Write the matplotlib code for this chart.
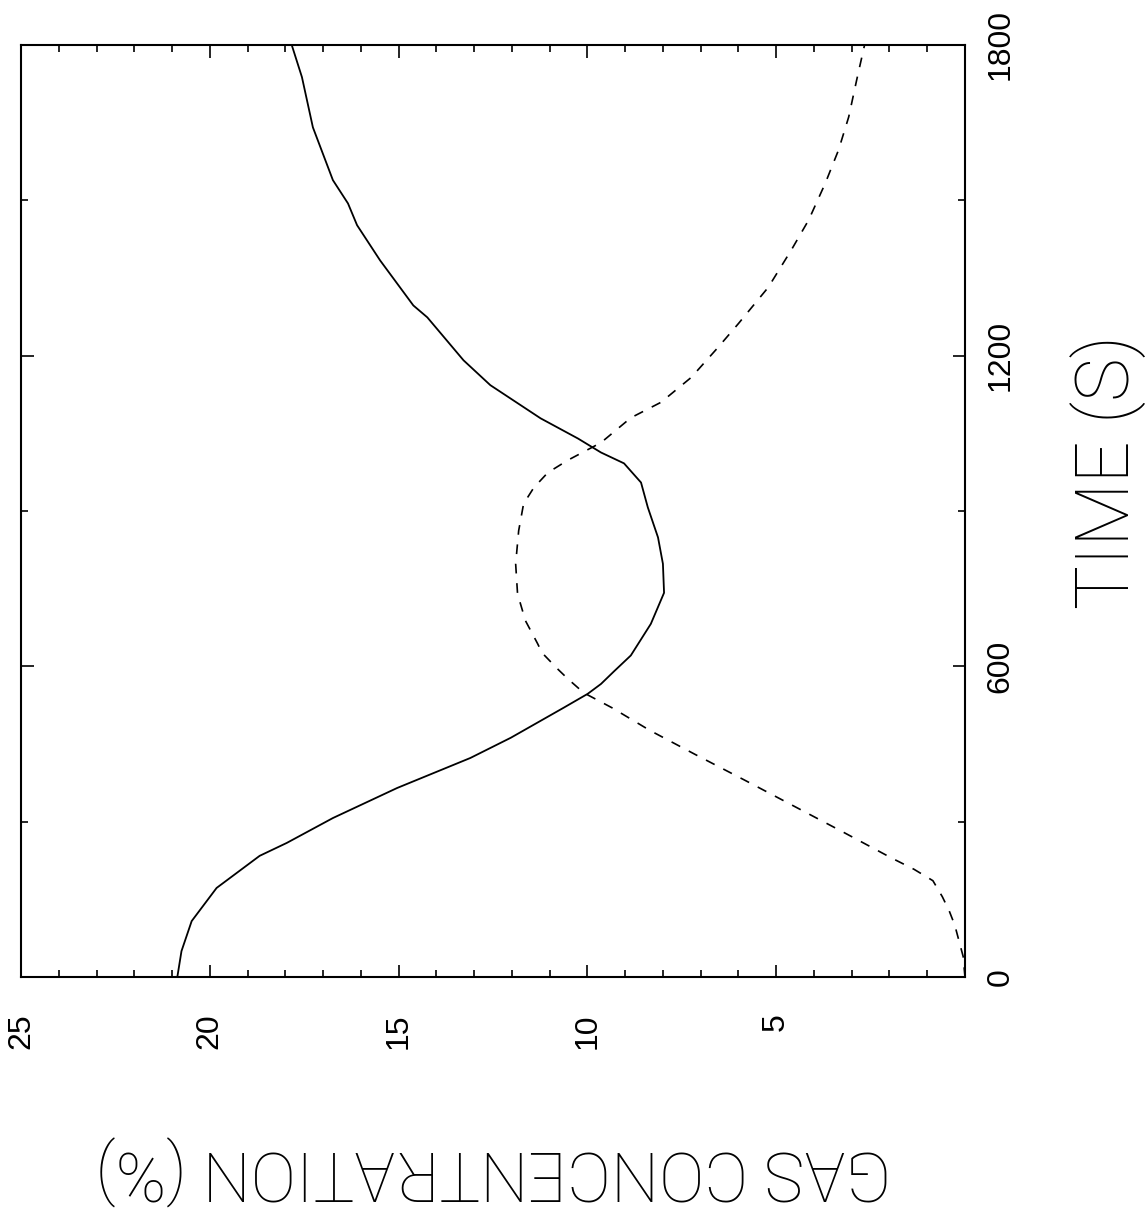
import numpy as np
import matplotlib
matplotlib.use("Agg")
import matplotlib.pyplot as plt
from matplotlib.ticker import MultipleLocator

plt.rcParams['font.family'] = ['Liberation Sans', 'DejaVu Sans']
plt.rcParams['lines.scale_dashes'] = False

# solid curve (time s, concentration %)
solid_time = [0, 50, 108, 172, 234, 259, 307, 365, 423, 462, 520, 547, 566, 590,
              621, 682, 742, 798, 849, 907, 955, 992, 1013, 1040, 1079, 1143,
              1191, 1274, 1297, 1384, 1452, 1494, 1539, 1641, 1738, 1800]
solid_conc = [20.86, 20.75, 20.48, 19.82, 18.68, 17.96, 16.74, 15.04, 13.1, 12.03,
              10.63, 9.99, 9.64, 9.3, 8.85, 8.32, 7.97, 8.0, 8.13, 8.40, 8.58,
              9.03, 9.64, 10.25, 11.24, 12.57, 13.28, 14.24, 14.61, 15.49, 16.1,
              16.34, 16.74, 17.27, 17.56, 17.83]

# dashed curve
dashed_time = [0, 40, 70, 100, 128, 155, 186, 208, 230, 280, 330, 380, 430, 476, 520,
               549, 576, 595, 626, 644, 688, 740, 798, 862, 914, 945, 974, 998, 1032,
               1080, 1110, 1158, 1216, 1262, 1332, 1404, 1462, 1533, 1597, 1661, 1732,
               1800]
dashed_conc = [0.0, 0.05, 0.16, 0.27, 0.42, 0.6, 0.85, 1.35, 1.95, 3.23, 4.53, 5.83,
               7.15, 8.34, 9.35, 10.1, 10.52, 10.79, 11.2, 11.32, 11.64, 11.85, 11.9,
               11.82, 11.69, 11.42, 11.05, 10.52, 9.64, 8.85, 8.05, 7.25, 6.54, 6.0,
               5.21, 4.6, 4.14, 3.7, 3.35, 3.08, 2.87, 2.66]

conc_ticks = [25, 20, 15, 10, 5, 0]
conc_labels = ['25', '20', '15', '10', '5', '']
time_ticks = [0, 600, 1200, 1800]
time_labels = ['0', '600', '1200', '1800']

W, H = 1148, 1208
fig = plt.figure(figsize=(W / 100, H / 100), dpi=100)
ax = fig.add_axes([21 / W, 1 - 977 / H, 944 / W, 932 / H])

ax.plot(solid_conc, solid_time, color='black', lw=1.3)
ax.plot(dashed_conc, dashed_time, color='black', lw=1.2, linestyle=(0, (7, 7)))

ax.set_xlim(25, 0)
ax.set_ylim(0, 1800)

ax.set_xticks(conc_ticks)
ax.set_xticklabels(conc_labels, rotation=90, fontsize=23)
ax.xaxis.set_minor_locator(MultipleLocator(1))
ax.set_yticks(time_ticks)
ax.set_yticklabels(time_labels, rotation=90, va='center', fontsize=23)
ax.yaxis.set_minor_locator(MultipleLocator(300))

ax.tick_params(which='both', direction='in', top=True, bottom=True, left=True, right=True,
               labelleft=False, labelright=True, width=1.2)
ax.tick_params(which='major', length=9)
ax.tick_params(which='minor', length=5)
ax.tick_params(axis='x', pad=26)
ax.tick_params(axis='y', pad=15)

for s in ax.spines.values():
    s.set_linewidth(1.5)

ax.set_xlabel('GAS CONCENTRATION (%)', rotation=180, fontsize=49,
              fontfamily=['Roboto', 'Liberation Sans'], fontweight='light')
ax.xaxis.set_label_coords(0.5, -0.207)
ax.xaxis.label.set_va('center')

ax.yaxis.set_label_position('right')
ax.set_ylabel('TIME (S)', rotation=90, fontsize=53,
              fontfamily=['Roboto', 'Liberation Sans'], fontweight='light')
ax.yaxis.set_label_coords(1.152, 0.542)
ax.yaxis.label.set_va('center')
ax.yaxis.label.set_ha('center')

fig.savefig('out.png', dpi=100)
